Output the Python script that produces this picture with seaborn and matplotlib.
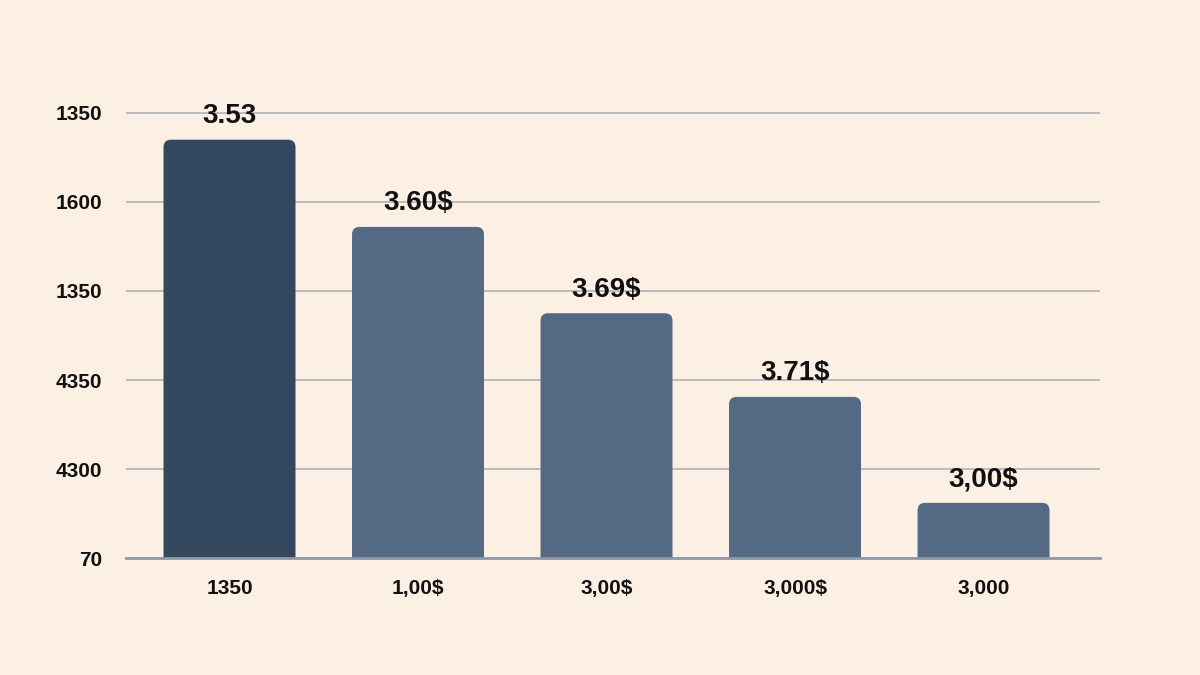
import matplotlib
matplotlib.use("Agg")
import matplotlib.pyplot as plt
from matplotlib.patches import FancyBboxPatch
import seaborn as sns
import pandas as pd

categories = ["1350", "1,00$", "3,00$", "3,000$", "3,000"]
values = [4.70, 3.72, 2.75, 1.81, 0.62]
value_labels = ["3.53", "3.60$", "3.69$", "3.71$", "3,00$"]
ytick_pos = [0, 1, 2, 3, 4, 5]
ytick_labels = ["70", "4300", "4350", "1350", "1600", "1350"]
bar_colors = ["#33475f", "#546a84", "#546a84", "#546a84", "#546a84"]

BG = "#fcefe4"

sns.set_theme(style="white")
plt.rcParams["font.family"] = ["Liberation Sans", "DejaVu Sans"]

df = pd.DataFrame({"cat": categories, "val": values})

fig = plt.figure(figsize=(12, 6.75), dpi=100)
fig.patch.set_facecolor(BG)
ax = fig.add_axes([0.105, 0.1733, 0.8117, 0.6791])
ax.set_facecolor(BG)

sns.barplot(data=df, x="cat", y="val", hue="cat", palette=bar_colors,
            legend=False, width=0.70, saturation=1, linewidth=0,
            ax=ax, zorder=3)

ax.set_ylim(0, 5.15)
ax.set_xlim(-0.549, 4.618)

# swap the square bars for ones with slightly rounded tops
for p in list(ax.patches):
    x0, w, h = p.get_x(), p.get_width(), p.get_height()
    rb = FancyBboxPatch((x0, -0.2), w, h + 0.2,
                        boxstyle="round,pad=0,rounding_size=0.04",
                        mutation_aspect=2.1, facecolor=p.get_facecolor(),
                        edgecolor="none", zorder=3)
    p.set_visible(False)
    ax.add_patch(rb)

ax.set_yticks(ytick_pos)
ax.set_yticklabels(ytick_labels)
ax.yaxis.grid(True, color="#b4b6bd", linewidth=1.3, zorder=0)
ax.set_axisbelow(True)

for s in ["top", "right", "left"]:
    ax.spines[s].set_visible(False)
ax.spines["bottom"].set_color("#8d99a8")
ax.spines["bottom"].set_linewidth(2)
ax.spines["bottom"].set_zorder(4)

ax.tick_params(axis="y", length=0, pad=17, labelsize=15, labelcolor="#111111")
ax.tick_params(axis="x", length=0, pad=15, labelsize=15, labelcolor="#111111")
for t in ax.get_yticklabels() + ax.get_xticklabels():
    t.set_fontweight("bold")
ax.set_xlabel("")
ax.set_ylabel("")

for i, (v, lab) in enumerate(zip(values, value_labels)):
    ax.annotate(lab, (i, v), xytext=(0, 17), textcoords="offset points",
                ha="center", va="center", fontsize=20, fontweight="bold",
                color="#111111", annotation_clip=False, zorder=5)

fig.savefig("out.png", dpi=100, facecolor=BG)
